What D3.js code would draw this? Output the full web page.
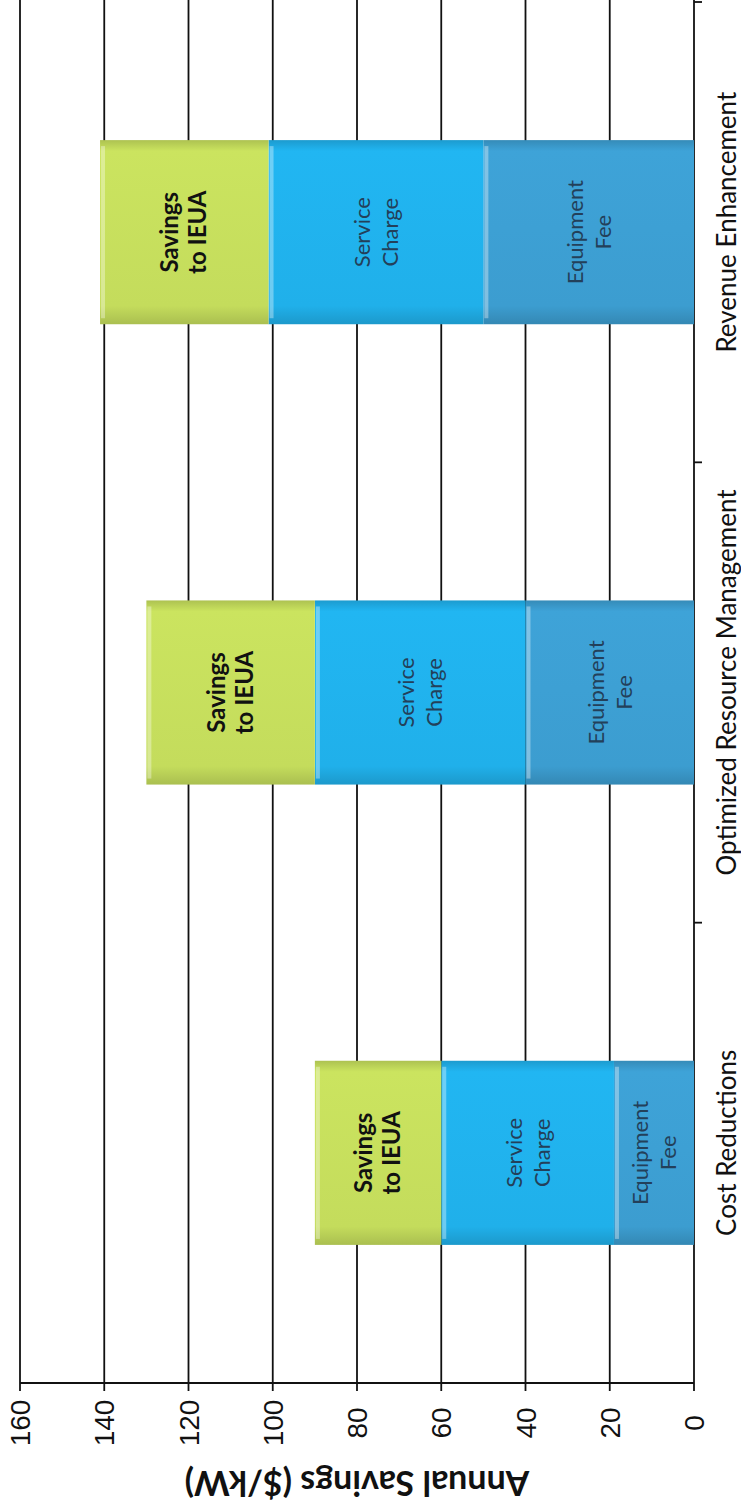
<!DOCTYPE html>
<html>
<head>
<meta charset="utf-8">
<script src="https://cdn.jsdelivr.net/npm/d3@7"></script>
<style>
	body{margin:0;background:#fff;}
	svg{display:block;}
</style>
</head>
<body>
<script>

// les données (graphique pivoté de 90 degrés, comme le scan)
var categories=["Cost Reductions","Optimized Resource Management","Revenue Enhancement"];
var seriesNames=["Equipment Fee","Service Charge","Savings to IEUA"];
var equipmentFee=[19,40,50];
var serviceCharge=[41,50,51];
var savingsToIEUA=[30,40,40];
var valueTicks=[0,20,40,60,80,100,120,140,160];

var seriesLines={
	"Equipment Fee":["Equipment","Fee"],
	"Service Charge":["Service","Charge"],
	"Savings to IEUA":["Savings","to IEUA"]
};
var seriesColors={
	"Equipment Fee":"#3c9dd0",
	"Service Charge":"#20b0ea",
	"Savings to IEUA":"#c4dc5c"
};

var width=741,height=1509;
var plotTop=2,plotBottom=1383;

var rows=categories.map(function(c,i){
	return {cat:c,"Equipment Fee":equipmentFee[i],"Service Charge":serviceCharge[i],"Savings to IEUA":savingsToIEUA[i]};
});

var x=d3.scaleLinear().domain([0,160]).range([694,20]);
var y=d3.scaleBand()
	.domain(categories.slice().reverse())
	.range([plotTop,plotBottom])
	.paddingInner(0.6)
	.paddingOuter(0.3);

var svg=d3.select("body").append("svg")
	.attr("width",width)
	.attr("height",height);

var defs=svg.append("defs");
seriesNames.forEach(function(s,i){
	var base=d3.color(seriesColors[s]);
	var g=defs.append("linearGradient")
		.attr("id","grad"+i)
		.attr("x1","0").attr("x2","0").attr("y1","0").attr("y2","1");
	g.append("stop").attr("offset","0%").attr("stop-color",base.darker(0.35));
	g.append("stop").attr("offset","6%").attr("stop-color",base.brighter(0.1));
	g.append("stop").attr("offset","90%").attr("stop-color",base);
	g.append("stop").attr("offset","100%").attr("stop-color",base.darker(0.4));
});

// grille verticale
svg.append("g").attr("class","grid")
	.selectAll("line")
	.data(valueTicks)
	.enter().append("line")
	.attr("x1",function(d){return x(d);})
	.attr("x2",function(d){return x(d);})
	.attr("y1",0)
	.attr("y2",plotBottom)
	.style("stroke","#111")
	.style("stroke-width",1.8);

// barres empilées
var stacked=d3.stack().keys(seriesNames)(rows);

var layers=svg.append("g").attr("class","bars")
	.selectAll("g")
	.data(stacked)
	.enter().append("g")
	.attr("fill",function(d,i){return "url(#grad"+i+")";});

layers.selectAll("rect")
	.data(function(d){return d;})
	.enter().append("rect")
	.attr("x",function(d){return x(d[1]);})
	.attr("width",function(d){return x(d[0])-x(d[1]);})
	.attr("y",function(d){return y(d.data.cat);})
	.attr("height",y.bandwidth());

// petit reflet sur le bord gauche de chaque segment
layers.selectAll("rect.hl")
	.data(function(d){return d;})
	.enter().append("rect")
	.attr("class","hl")
	.attr("x",function(d){return x(d[1])+1;})
	.attr("width",4)
	.attr("y",function(d){return y(d.data.cat)+6;})
	.attr("height",y.bandwidth()-12)
	.style("fill","#fff")
	.style("opacity",0.35);

// étiquettes dans les segments
stacked.forEach(function(layer){
	var key=layer.key;
	var bold=(key=="Savings to IEUA");
	layer.forEach(function(d){
		var cx=(x(d[0])+x(d[1]))/2;
		var cy=y(d.data.cat)+y.bandwidth()/2;
		var t=svg.append("text")
			.attr("transform","translate("+cx+","+cy+") rotate(-90)")
			.attr("text-anchor","middle")
			.style("font-family","Lato, 'Open Sans', sans-serif")
			.style("font-size",bold?"24px":"22px")
			.style("font-weight",bold?"bold":"normal")
			.style("fill",bold?"#111":"#23405a");
		seriesLines[key].forEach(function(line,j){
			t.append("tspan")
				.attr("x",0)
				.attr("y",(j==0?-14:14)+8)
				.text(line);
		});
	});
});

// axe des valeurs (en bas)
var vAxis=svg.append("g").attr("class","value-axis");
vAxis.append("line")
	.attr("x1",x(160)).attr("x2",x(0))
	.attr("y1",plotBottom).attr("y2",plotBottom)
	.style("stroke","#111").style("stroke-width",2.2);
vAxis.selectAll("line.tick")
	.data(valueTicks)
	.enter().append("line")
	.attr("class","tick")
	.attr("x1",function(d){return x(d);})
	.attr("x2",function(d){return x(d);})
	.attr("y1",plotBottom)
	.attr("y2",plotBottom+8)
	.style("stroke","#111").style("stroke-width",1.8);
vAxis.selectAll("text")
	.data(valueTicks)
	.enter().append("text")
	.attr("transform",function(d){return "translate("+(x(d)+10)+","+(plotBottom+40)+") rotate(-90)";})
	.attr("text-anchor","middle")
	.style("font-family","'Liberation Sans', Arial, sans-serif")
	.style("font-size","28px")
	.style("fill","#111")
	.text(function(d){return d;});

svg.append("text")
	.attr("transform","translate("+x(80)+","+(plotBottom+88)+") rotate(180)")
	.attr("text-anchor","middle")
	.style("font-family","Lato, 'Open Sans', sans-serif")
	.style("font-size","34px")
	.style("font-weight","bold")
	.style("fill","#111")
	.text("Annual Savings ($/kW)");

// axe des catégories (à droite)
var cAxis=svg.append("g").attr("class","cat-axis");
var bounds=[plotTop].concat(categories.slice().reverse().slice(1).map(function(c){
	return y(c)-y.step()*y.paddingInner()/2;
}));
cAxis.selectAll("line.tick")
	.data(bounds)
	.enter().append("line")
	.attr("class","tick")
	.attr("x1",x(0)).attr("x2",x(0)+8)
	.attr("y1",function(d){return d;})
	.attr("y2",function(d){return d;})
	.style("stroke","#111").style("stroke-width",1.8);
cAxis.selectAll("text")
	.data(categories)
	.enter().append("text")
	.attr("transform",function(d){return "translate("+736+","+(y(d)+y.bandwidth()/2-10)+") rotate(-90)";})
	.attr("text-anchor","middle")
	.style("font-family","Lato, 'Open Sans', sans-serif")
	.style("font-size","26px")
	.style("fill","#111")
	.text(function(d){return d;});

</script>
</body>
</html>
